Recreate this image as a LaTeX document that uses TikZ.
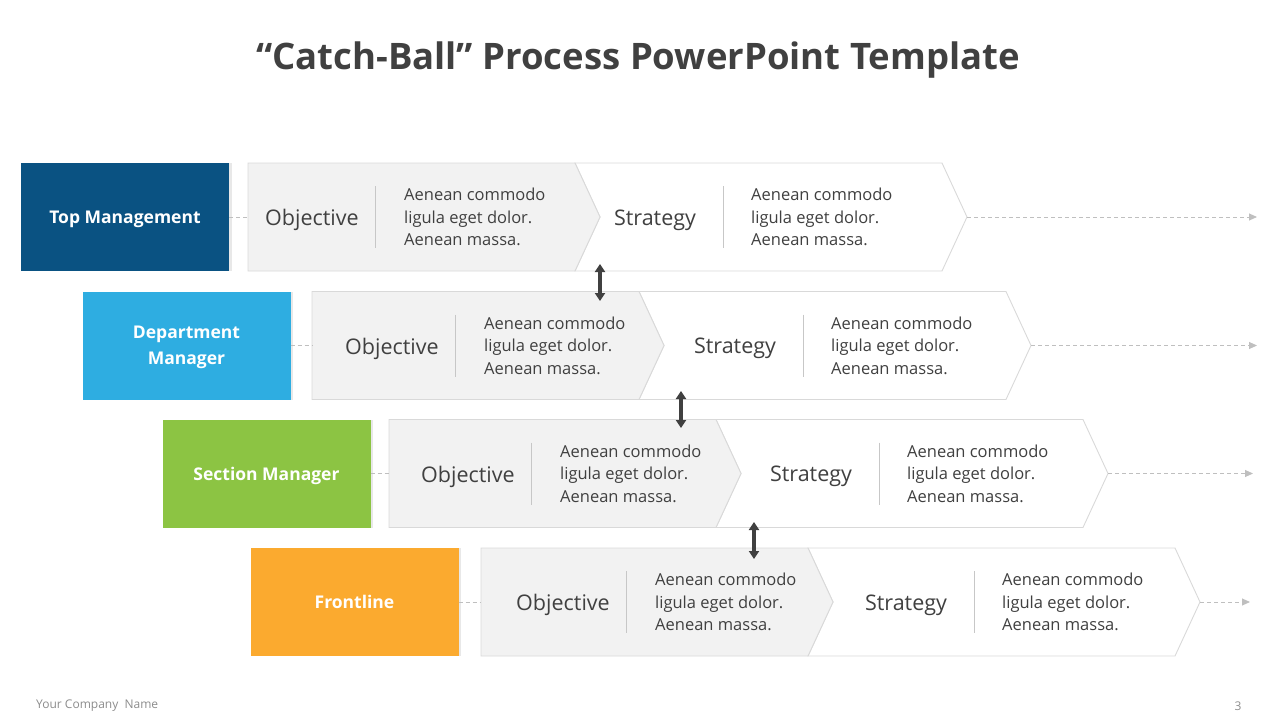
\documentclass[tikz,border=0pt]{standalone}
\usepackage{fontspec}
\setmainfont{Open Sans}
\usetikzlibrary{positioning,arrows.meta,shadows}

\definecolor{topblue}{HTML}{0A5282}
\definecolor{deptblue}{HTML}{2EADE1}
\definecolor{secgreen}{HTML}{8CC443}
\definecolor{frontorange}{HTML}{FBAA2F}
\definecolor{textgrey}{HTML}{404040}
\definecolor{bandfill}{HTML}{F2F2F2}
\definecolor{bandline}{HTML}{D9D9D9}
\definecolor{dashgrey}{HTML}{BFBFBF}
\definecolor{footgrey}{HTML}{8C8C8C}

\begin{document}
\begin{tikzpicture}[x=1pt,y=-1pt,
		level/.style={rectangle, inner sep=0pt, minimum width=208pt, minimum height=108pt,
			text=white, align=center, text depth=0pt, font=\fontsize{17.5}{26}\selectfont\bfseries,
			drop shadow={opacity=0.18, shadow xshift=2.5pt, shadow yshift=0pt}},
		stage/.style={inner sep=0pt, text=textgrey, font=\fontsize{21.5}{25}\selectfont},
		blurb/.style={inner sep=0pt, anchor=west, align=left, text=textgrey,
			font=\fontsize{16.5}{22.5}\selectfont},
		band/.style={draw=bandline, line width=0.9pt},
		divider/.style={draw=bandline!80!gray, line width=0.9pt},
		link/.style={draw=dashgrey, dashed, dash pattern=on 4pt off 3pt, line width=0.9pt},
		flow/.style={link, -{Triangle[length=8pt,width=7pt,fill=dashgrey]}},
		catch/.style={draw=textgrey, line width=3.2pt,
			{Triangle[length=8pt,width=10pt]}-{Triangle[length=8pt,width=10pt]}}
	]
	\useasboundingbox (0,0) rectangle (1280,720);

	\node[text=textgrey, font=\fontsize{36.5}{42}\selectfont\bfseries] (title) at (638,60)
		{“Catch-Ball” Process PowerPoint Template};

	% one row per level: label x, band x, middle y, text shift, arrow end
	\foreach \n/\lx/\cx/\y/\dx/\ex/\col/\who in {
			1/125/248/217/0/1257/topblue/{Top Management},
			2/186.5/312/345.5/16/1257/deptblue/{Department\\Manager},
			3/266.5/389/473.5/15/1253/secgreen/{Section Manager},
			4/354.5/481/602/18/1250/frontorange/{Frontline}}{
		\draw[band, fill=white] (\cx+327,\y-54) -- ++(367,0) -- ++(25,54) -- ++(-25,54)
			-- ++(-367,0) -- ++(25,-54) -- cycle;
		\draw[band, fill=bandfill] (\cx,\y-54) -- ++(327,0) -- ++(25,54) -- ++(-25,54)
			-- ++(-327,0) -- cycle;
		\coordinate (in\n) at (\cx,\y);
		\coordinate (tip\n) at (\cx+719,\y);
		\coordinate (end\n) at (\ex,\y);

		\node[level, fill=\col] (lvl\n) at (\lx,\y) {\who};
		\draw[link] (lvl\n) -- (in\n);
		\draw[flow] (tip\n) -- (end\n);

		\node[stage] (obj\n) at (\cx+64+\dx,\y+3) {Objective};
		\draw[divider] (\cx+127+\dx,\y-31) -- (\cx+127+\dx,\y+31);
		\node[blurb] (objtxt\n) at (\cx+156+\dx,\y)
			{Aenean commodo\\ligula eget dolor.\\Aenean massa.};
		\node[stage] (str\n) at (\cx+407+\dx,\y+3) {Strategy};
		\draw[divider] (\cx+475+\dx,\y-31) -- (\cx+475+\dx,\y+31);
		\node[blurb] (strtxt\n) at (\cx+503+\dx,\y)
			{Aenean commodo\\ligula eget dolor.\\Aenean massa.};
	}

	\coordinate (up1) at (600,264);
	\coordinate (dn1) at (600,301);
	\coordinate (up2) at (681,391);
	\coordinate (dn2) at (681,428);
	\coordinate (up3) at (754,522);
	\coordinate (dn3) at (754,559);
	\draw[catch] (up1) -- (dn1);
	\draw[catch] (up2) -- (dn2);
	\draw[catch] (up3) -- (dn3);

	\node[anchor=west, inner sep=0pt, text=footgrey, font=\fontsize{12}{14}\selectfont]
		(company) at (36,706) {Your Company\ \ Name};
	\node[inner sep=0pt, text=footgrey, font=\fontsize{12}{14}\selectfont]
		(page) at (1238,706) {3};
\end{tikzpicture}
\end{document}
